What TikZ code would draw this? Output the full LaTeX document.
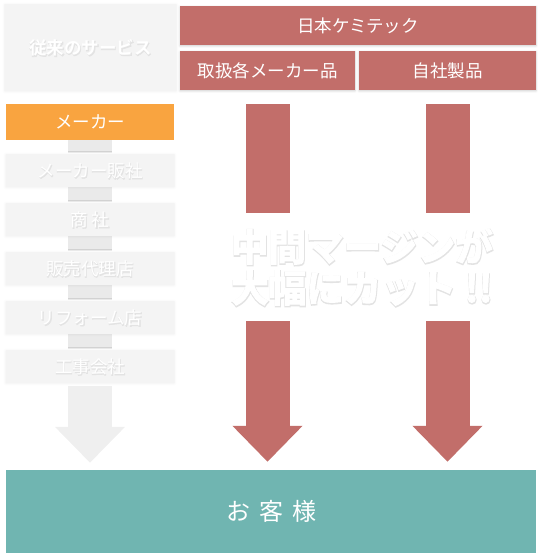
\documentclass[tikz,border=0pt]{standalone}
\usepackage{fontspec}
\setmainfont{Noto Sans CJK JP}
\newfontfamily\heavyjp{Noto Sans CJK JP Bold}[FakeBold=2.5]
\newfontfamily\boldjp{Noto Sans CJK JP Bold}
\usetikzlibrary{arrows.meta,shadows.blur,backgrounds}

\definecolor{chemred}{HTML}{C26E6A}
\definecolor{custteal}{HTML}{70B5B1}
\definecolor{makerorange}{HTML}{F9A440}
\definecolor{oldgray}{HTML}{F4F4F4}
\definecolor{linkgray}{HTML}{EAEAEA}
\definecolor{oldarrow}{HTML}{EFEFEF}

% white text with a soft grey shadow
\newcommand{\shadetxt}[2][3]{\leavevmode\rlap{\kern0.3pt\raisebox{-1pt}{\addfontfeature{FakeBold=#1}\textcolor{black!11}{#2}}}#2}

\begin{document}
\begin{tikzpicture}[x=1pt,y=1pt,
  boxfont/.style={font=\fontsize{17.5}{20}\selectfont},
  redbox/.style={boxfont,fill=chemred,text=white,inner sep=0pt,minimum height=39pt,
    blur shadow={shadow xshift=0pt,shadow yshift=-1pt,shadow blur steps=5,shadow opacity=20}},
  oldbox/.style={boxfont,fill=oldgray,text=white,inner sep=0pt,minimum width=168pt,minimum height=32pt,
    blur shadow={shadow xshift=0pt,shadow yshift=0pt,shadow blur radius=3pt,shadow blur steps=6,shadow opacity=8}},
  link/.style={draw=linkgray,line width=44pt},
  bigarrow/.style={line width=44pt,-{Triangle[width=68pt,length=36pt]}},
]
\useasboundingbox (0,0) rectangle (542,559);

% Existing service
\node[oldbox,minimum width=171pt,minimum height=86pt,font=\fontsize{17.5}{20}\boldjp] (svc) at (90.5,511) {\shadetxt[3.5]{従来のサービス}};

% Nihon Chemitec
\node[redbox,minimum width=356pt] (chem) at (358,533.5) {日本ケミテック};
\node[redbox,minimum width=175pt] (handle) at (267.5,488.5) {取扱各メーカー品};
\node[redbox,minimum width=177pt] (own) at (447.5,488.5) {自社製品};

% Old chain
\node[boxfont,fill=makerorange,text=white,inner sep=0pt,minimum width=168pt,minimum height=36pt] (maker) at (90,437) {メーカー};
\node[oldbox] (hansha) at (90,388) {\shadetxt{メーカー販社}};
\node[oldbox] (shosha) at (90,339) {\shadetxt{商 社}};
\node[oldbox] (dairi) at (90,290) {\shadetxt{販売代理店}};
\node[oldbox] (reform) at (90,241) {\shadetxt{リフォーム店}};
\node[oldbox] (koji) at (90,192) {\shadetxt{工事会社}};

\begin{scope}[on background layer]
\draw[link,shorten >=2pt] (maker.south) -- (hansha.north);
\draw[link,shorten >=2pt] (hansha.south) -- (shosha.north);
\draw[link,shorten >=2pt] (shosha.south) -- (dairi.north);
\draw[link,shorten >=2pt] (dairi.south) -- (reform.north);
\draw[link,shorten >=2pt] (reform.south) -- (koji.north);
\end{scope}

% Customer
\node[fill=custteal,text=white,inner sep=0pt,minimum width=530pt,minimum height=83pt,font=\fontsize{24}{28}\selectfont] (cust) at (271,47.5) {お\hspace{9pt}客\hspace{9pt}様};

% Arrows
\draw[bigarrow,oldarrow,shorten <=3pt,shorten >=7pt] (koji.south) -- (koji.south |- cust.north);
\draw[bigarrow,chemred,shorten <=14pt,shorten >=8pt] (handle.south) -- (handle.south |- cust.north);
\draw[bigarrow,chemred,shorten <=14pt,shorten >=8pt] (own.south) -- (own.south |- cust.north);

% Margin cut
\node[fill=white,text=white,inner sep=0pt,minimum width=270pt,minimum height=108pt,align=center,
  font=\fontsize{37.5}{41}\heavyjp] (cut) at (362,291.5) {\shadetxt[6]{中間マージンが}\\\shadetxt[6]{大幅にカット !!}};
\end{tikzpicture}
\end{document}
